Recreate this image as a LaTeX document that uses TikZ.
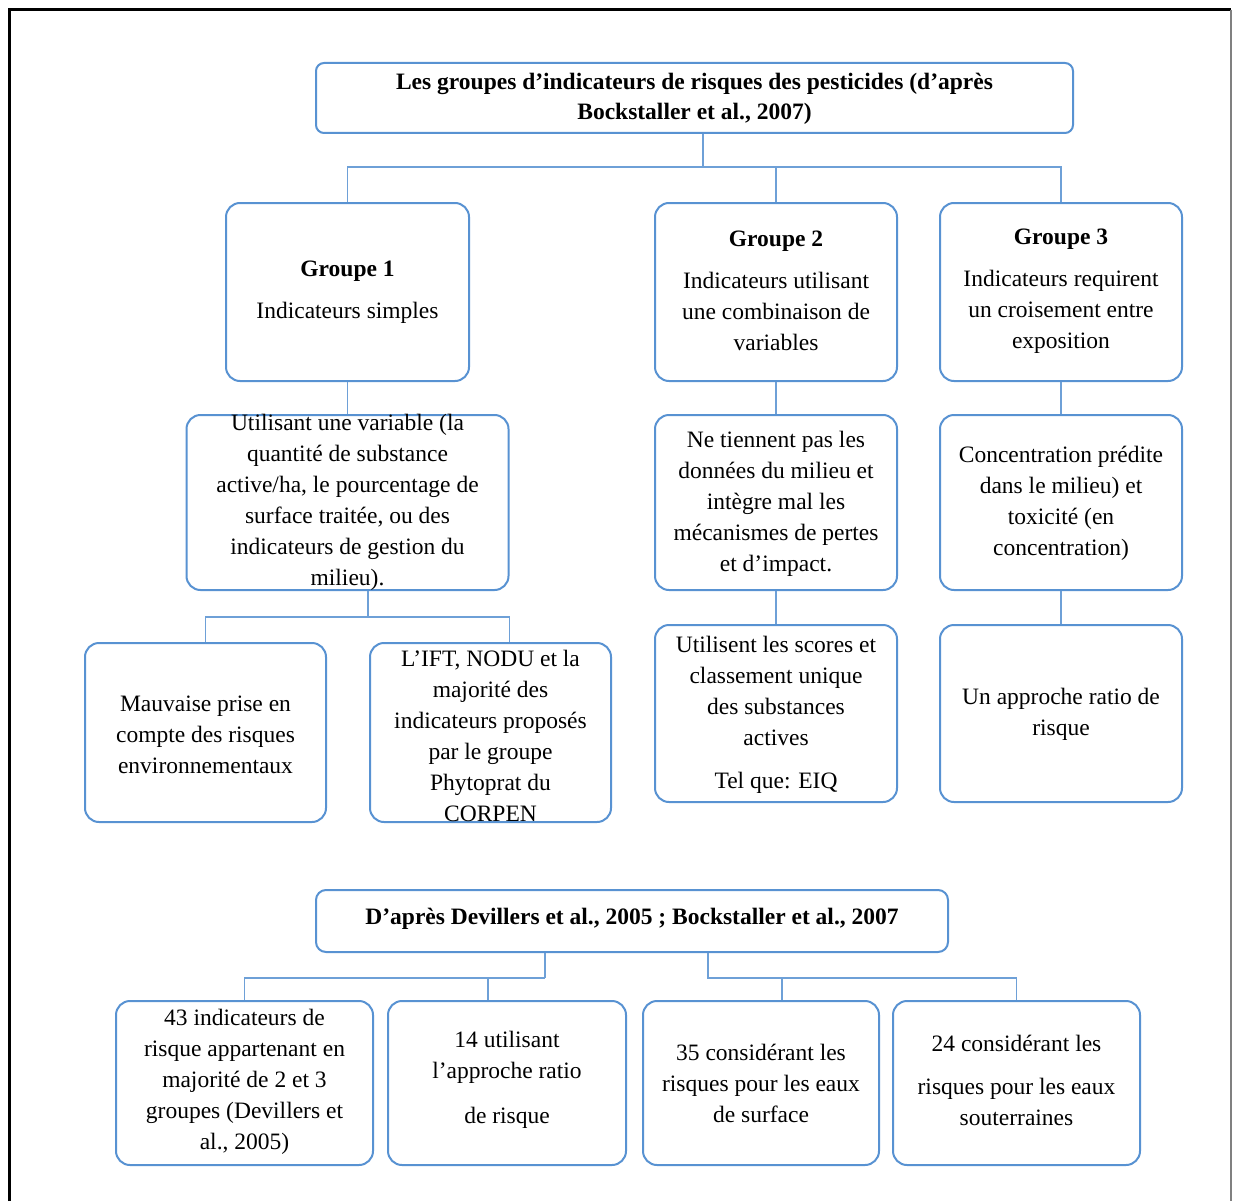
\documentclass[tikz,border=0pt]{standalone}
\usepackage{fontspec}
\setmainfont{Liberation Serif}
\definecolor{boxblue}{RGB}{88,146,210}
\definecolor{lineblue}{RGB}{110,160,215}
\begin{document}
\begin{tikzpicture}[x=1pt,y=-1pt,
  box/.style={draw=boxblue, line width=2pt, rounded corners=14pt, inner sep=0pt},
  conn/.style={draw=lineblue, line width=1.9pt},
  txt/.style={align=center, inner sep=0pt, font=\fontsize{23.5}{31}\selectfont},
]
\useasboundingbox (0,0) rectangle (1233,1201);
\fill[white] (0,0) rectangle (1233,1201);
\draw[black, line width=3pt] (9,1201) -- (9,10) -- (1231,10);
\draw[gray, line width=2pt] (1231,10) -- (1231,1201);

% boxes
\node[box, rounded corners=8pt, minimum width=757pt, minimum height=70pt] (title) at (694.5,98) {};
\node[box, minimum width=243pt, minimum height=178pt] (g1) at (347.5,292) {};
\node[box, minimum width=242pt, minimum height=178pt] (g2) at (776,292) {};
\node[box, minimum width=242pt, minimum height=178pt] (g3) at (1061,292) {};
\node[box, minimum width=322pt, minimum height=175pt] (u1) at (347.5,502.5) {};
\node[box, minimum width=242pt, minimum height=175pt] (ne) at (776,502.5) {};
\node[box, minimum width=242pt, minimum height=175pt] (conc) at (1061,502.5) {};
\node[box, minimum width=241pt, minimum height=179pt] (m1) at (205.5,732.5) {};
\node[box, minimum width=241pt, minimum height=179pt] (ift) at (490.5,732.5) {};
\node[box, minimum width=242pt, minimum height=177pt] (uti) at (776,713.5) {};
\node[box, minimum width=242pt, minimum height=177pt] (ratio) at (1061,713.5) {};
\node[box, rounded corners=10pt, minimum width=632pt, minimum height=62pt] (bt) at (632,921) {};
\node[box, minimum width=257pt, minimum height=164pt] (b1) at (244.5,1083) {};
\node[box, minimum width=238pt, minimum height=164pt] (b2) at (507,1083) {};
\node[box, minimum width=236pt, minimum height=164pt] (b3) at (761,1083) {};
\node[box, minimum width=247pt, minimum height=164pt] (b4) at (1016.5,1083) {};

% texts
\node[txt, font=\fontsize{23.5}{30}\selectfont\bfseries] (ttitle) at ([yshift=-1pt]title.center) {Les groupes d’indicateurs de risques des pesticides (d’après\\Bockstaller et al., 2007)};
\node[txt] (tg1) at ([yshift=0pt]g1.center) {\textbf{Groupe 1}\\[11pt]Indicateurs simples};
\node[txt] (tg2) at ([yshift=1pt]g2.center) {\textbf{Groupe 2}\\[11pt]Indicateurs utilisant\\une combinaison de\\variables};
\node[txt] (tg3) at ([yshift=1pt]g3.center) {\textbf{Groupe 3}\\[11pt]Indicateurs requirent\\un croisement entre\\exposition};
\node[txt] (tu1) at (u1.center) {Utilisant une variable (la\\quantité de substance\\active/ha, le pourcentage de\\surface traitée, ou des\\indicateurs de gestion du\\milieu).};
\node[txt] (tne) at ([yshift=-1pt]ne.center) {Ne tiennent pas les\\données du milieu et\\intègre mal les\\mécanismes de pertes\\et d’impact.};
\node[txt] (tconc) at ([yshift=-1pt]conc.center) {Concentration prédite\\dans le milieu) et\\toxicité (en\\concentration)};
\node[txt] (tm1) at ([yshift=-2pt]m1.center) {Mauvaise prise en\\compte des risques\\environnementaux};
\node[txt] (tift) at ([yshift=-3pt]ift.center) {L’IFT, NODU et la\\majorité des\\indicateurs proposés\\par le groupe\\Phytoprat du\\CORPEN};
\node[txt] (tuti) at ([yshift=-1pt]uti.center) {Utilisent les scores et\\classement unique\\des substances\\actives\\[12pt]Tel que: EIQ};
\node[txt] (tratio) at ([yshift=-1pt]ratio.center) {Un approche ratio de\\risque};
\node[txt, font=\fontsize{23.5}{31}\selectfont\bfseries] (tbt) at ([yshift=2pt]bt.center) {D’après Devillers et al., 2005 ; Bockstaller et al., 2007};
\node[txt] (tb1) at ([yshift=1pt]b1.center) {43 indicateurs de\\risque appartenant en\\majorité de 2 et 3\\groupes (Devillers et\\al., 2005)};
\node[txt] (tb2) at ([yshift=3pt]b2.center) {14 utilisant\\l’approche ratio\\[14pt]de risque};
\node[txt] (tb3) at (b3.center) {35 considérant les\\risques pour les eaux\\de surface};
\node[txt] (tb4) at ([yshift=3pt]b4.center) {24 considérant les\\[12pt]risques pour les eaux\\souterraines};

% connectors
\coordinate (bus1) at (703,167);
\draw[conn] (bus1 |- title.south) -- (bus1);
\draw[conn] (g1.north) |- (bus1) -| (g3.north);
\draw[conn] (g2.north) -- (g2.north |- bus1);
\draw[conn] (g1.south) -- (u1.north);
\draw[conn] (g2.south) -- (ne.north);
\draw[conn] (g3.south) -- (conc.north);
\draw[conn] (ne.south) -- (uti.north);
\draw[conn] (conc.south) -- (ratio.north);
\coordinate (bus2) at (368,617);
\coordinate (iftc) at ([xshift=19pt]ift.north);
\draw[conn] (bus2 |- u1.south) -- (bus2);
\draw[conn] (m1.north) |- (bus2) -| (iftc);
\coordinate (bus3) at (545,978);
\coordinate (b2c) at ([xshift=-19pt]b2.north);
\draw[conn] (bus3 |- bt.south) -- (bus3);
\draw[conn] (b1.north) |- (bus3);
\draw[conn] (b2c) -- (b2c |- bus3);
\coordinate (bus4) at (708,978);
\coordinate (b3c) at ([xshift=21pt]b3.north);
\draw[conn] (bus4 |- bt.south) -- (bus4) -| (b4.north);
\draw[conn] (b3c) -- (b3c |- bus4);
\end{tikzpicture}
\end{document}
